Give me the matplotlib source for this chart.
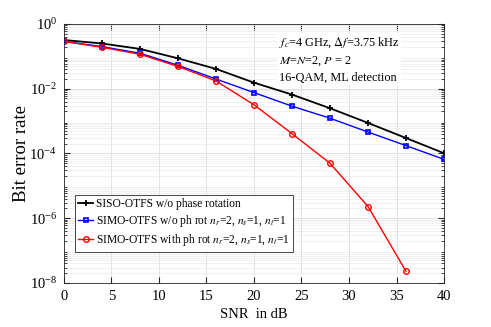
import matplotlib
matplotlib.use("Agg")
import matplotlib.pyplot as plt
from matplotlib.ticker import LogLocator, NullFormatter

plt.rcParams['font.family'] = ['Liberation Serif', 'DejaVu Serif']
plt.rcParams['mathtext.fontset'] = 'stix'

snr = [0, 4, 8, 12, 16, 20, 24, 28, 32, 36, 40]
ber_siso = [0.32, 0.25, 0.17, 0.087, 0.041, 0.0154, 0.0066, 0.0025, 8.8e-4, 3.0e-4, 1.02e-4]
ber_simo = [0.29, 0.20, 0.125, 0.053, 0.020, 0.0076, 0.0029, 0.00123, 4.6e-4, 1.75e-4, 6.6e-5]
snr_rot = [0, 4, 8, 12, 16, 20, 24, 28, 32, 36]
ber_rot = [0.29, 0.19, 0.116, 0.049, 0.0174, 0.0032, 4.1e-4, 5e-5, 2.3e-6, 2.3e-8]

labels = ['SISO-OTFS w/o phase rotation',
          r'SIMO-OTFS w/o ph rot $n_r$=2, $n_s$=1, $n_t$=1',
          r'SIMO-OTFS with ph rot $n_r$=2, $n_s$=1, $n_t$=1']

fig = plt.figure(figsize=(4.91, 3.27), dpi=100)
ax = fig.add_axes([0.1303, 0.1346, 0.774, 0.792])

ax.semilogy(snr, ber_siso, '-+', color='black', lw=1.3, ms=5, mew=1.3, label=labels[0])
ax.semilogy(snr, ber_simo, '-s', color='blue', lw=1.0, ms=3, mfc='none', mew=1.2, label=labels[1])
ax.semilogy(snr_rot, ber_rot, '-o', color='red', lw=1.0, ms=4, mfc='none', mew=1.0, label=labels[2])

ax.set_xlim(0, 40)
ax.set_ylim(1e-8, 1)
ax.set_xticks(range(0, 41, 5))
ax.set_yticks([1e0, 1e-2, 1e-4, 1e-6, 1e-8])
ax.yaxis.set_minor_locator(LogLocator(base=10, subs=range(2, 10), numticks=100))
ax.yaxis.set_minor_formatter(NullFormatter())
ax.grid(True, which='major', color='#dcdcdc', lw=0.6)
ax.grid(True, which='minor', axis='y', color='#ececec', lw=0.5)
ax.tick_params(which='both', direction='in', top=True, right=True, labelsize=10.5, colors='#262626')
ax.tick_params(axis='both', which='major', labelcolor='black', length=4, pad=5)
ax.tick_params(which='minor', length=2)
for s in ax.spines.values():
    s.set_color('#262626')
    s.set_linewidth(0.6)

ax.set_xlabel('SNR  in dB', fontsize=10.5, labelpad=4)
ax.set_ylabel('Bit error rate', fontsize=13.5, labelpad=2)
ax.yaxis.set_label_coords(-0.09, 0.5)

ax.text(0.565, 0.955,
        '$f_c$=4 GHz, $\\Delta f$=3.75 kHz\n$M$=$N$=2, $P$ = 2\n16-QAM, ML detection',
        transform=ax.transAxes, fontsize=8.8, va='top', ha='left', linespacing=1.45,
        bbox=dict(facecolor='white', edgecolor='none', pad=1))

leg = ax.legend(loc='lower left', bbox_to_anchor=(0.029, 0.121), fontsize=8.3,
                handlelength=1.3, handletextpad=0.2, borderpad=0.3, labelspacing=0.25,
                fancybox=False, framealpha=1, edgecolor='#262626', borderaxespad=0)
leg.get_frame().set_linewidth(0.6)

fig.savefig('out.png', dpi=100)
